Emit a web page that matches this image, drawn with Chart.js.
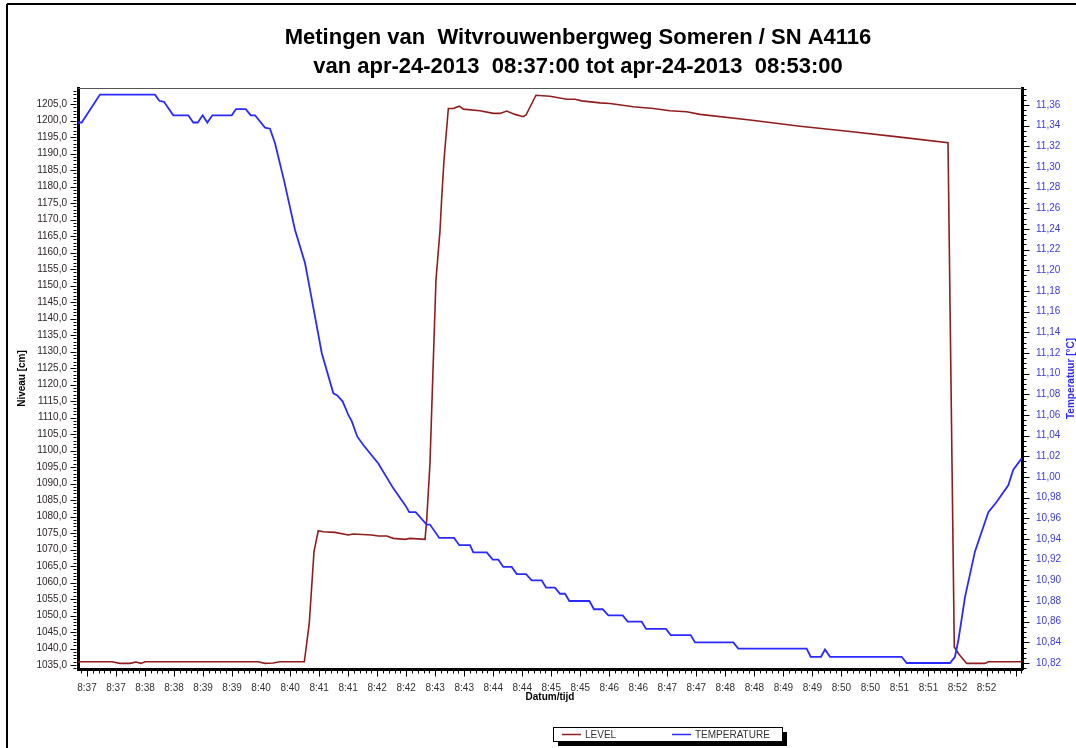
<!DOCTYPE html>
<html>
<head>
<meta charset="utf-8">
<script src="https://cdn.jsdelivr.net/npm/chart.js@4.4.0/dist/chart.umd.min.js"></script>
<style>
  html, body { margin: 0; padding: 0; background: #fff; }
</style>
</head>
<body>
<canvas id="meting-chart" width="1076" height="748"></canvas>
<script>
// tijd in seconden na 08:37:00
const levelTimes = [0, 35.2, 43.4, 53.8, 60.0, 65.1, 69.3, 186.1, 193.3, 201.6, 208.8, 234.0, 239.1, 244.0, 248.4,
  253.6, 265.7, 279.5, 284.6, 303.7, 310.5, 319.1, 326.0, 338.1, 343.3, 358.8, 360.5, 363.9, 366.7, 370.1, 374.3,
  376.0, 378.4, 382.9, 388.0, 394.2, 398.4, 415.6, 429.4, 436.3, 443.2, 451.8, 460.4, 463.2, 473.5, 488.0, 505.3,
  513.9, 520.8, 539.7, 550.0, 574.1, 594.8, 612.1, 629.3, 643.1, 694.8, 746.5, 798.2, 849.9, 899.5, 906.0, 910.2,
  918.8, 937.7, 941.2, 975.7];
const levelValues = [1036.0, 1036.0, 1035.5, 1035.5, 1035.9, 1035.5, 1036.0, 1036.0, 1035.5, 1035.6, 1036.0, 1036.0,
  1047.6, 1069.4, 1075.7, 1075.4, 1075.2, 1074.4, 1074.7, 1074.4, 1074.1, 1074.1, 1073.4, 1073.1, 1073.4, 1073.1,
  1078.9, 1096.1, 1121.4, 1151.7, 1166.8, 1176.4, 1188.0, 1203.7, 1203.7, 1204.4, 1203.5, 1203.0, 1202.2, 1202.2,
  1202.9, 1201.9, 1201.2, 1201.7, 1207.7, 1207.4, 1206.5, 1206.5, 1206.0, 1205.4, 1205.2, 1204.2, 1203.7, 1203.0,
  1202.7, 1201.9, 1200.2, 1198.3, 1196.7, 1195.0, 1193.3, 1040.5, 1038.5, 1035.5, 1035.5, 1036.0, 1036.0];

const tempTimes = [0, 3.8, 22.7, 79.6, 84.1, 88.9, 98.5, 114.0, 119.2, 123.8, 128.9, 133.7, 138.9, 158.9, 163.4,
  173.4, 178.6, 183.0, 193.3, 198.5, 203.7, 213.0, 224.4, 234.7, 239.9, 252.0, 264.0, 268.1, 273.7, 279.5, 283.0,
  288.8, 295.0, 310.5, 326.0, 338.1, 342.5, 349.1, 360.5, 363.9, 373.5, 388.8, 394.2, 405.3, 408.7, 422.6, 428.8,
  434.6, 439.7, 448.4, 453.6, 463.2, 469.1, 479.4, 483.9, 493.2, 498.3, 503.5, 508.0, 528.7, 533.5, 542.5, 548.3,
  563.2, 568.3, 582.8, 587.3, 607.9, 612.8, 633.5, 637.9, 677.5, 682.7, 753.4, 757.5, 768.2, 772.3, 777.5, 851.6,
  856.8, 901.6, 906.7, 910.2, 917.1, 927.4, 941.2, 949.9, 961.8, 967.0, 975.7];
const tempValues = [11.343, 11.343, 11.370, 11.370, 11.364, 11.363, 11.350, 11.350, 11.343, 11.343, 11.350, 11.343,
  11.350, 11.350, 11.356, 11.356, 11.350, 11.350, 11.338, 11.337, 11.323, 11.287, 11.239, 11.207, 11.181, 11.120,
  11.081, 11.079, 11.073, 11.060, 11.054, 11.039, 11.031, 11.013, 10.989, 10.973, 10.966, 10.966, 10.954, 10.954,
  10.941, 10.941, 10.934, 10.934, 10.927, 10.927, 10.920, 10.920, 10.913, 10.913, 10.906, 10.906, 10.900, 10.900,
  10.893, 10.893, 10.887, 10.887, 10.880, 10.880, 10.872, 10.872, 10.866, 10.866, 10.860, 10.860, 10.853, 10.853,
  10.847, 10.847, 10.840, 10.840, 10.834, 10.834, 10.826, 10.826, 10.833, 10.826, 10.826, 10.820, 10.820, 10.826,
  10.842, 10.884, 10.928, 10.966, 10.976, 10.992, 11.007, 11.018];

// as-labels
const timeTickLabels = ['8:37', '8:37', '8:38', '8:38', '8:39', '8:39', '8:40', '8:40', '8:41', '8:41', '8:42',
  '8:42', '8:43', '8:43', '8:44', '8:44', '8:45', '8:45', '8:46', '8:46', '8:47', '8:47', '8:48', '8:48', '8:49',
  '8:49', '8:50', '8:50', '8:51', '8:51', '8:52', '8:52'];
const firstTickSec = 9.3;
const tickStepSec = 30;
const levelTicks = [1035, 1040, 1045, 1050, 1055, 1060, 1065, 1070, 1075, 1080, 1085, 1090, 1095, 1100, 1105, 1110,
  1115, 1120, 1125, 1130, 1135, 1140, 1145, 1150, 1155, 1160, 1165, 1170, 1175, 1180, 1185, 1190, 1195, 1200, 1205];
const tempTicks = [10.82, 10.84, 10.86, 10.88, 10.90, 10.92, 10.94, 10.96, 10.98, 11.00, 11.02, 11.04, 11.06, 11.08,
  11.10, 11.12, 11.14, 11.16, 11.18, 11.20, 11.22, 11.24, 11.26, 11.28, 11.30, 11.32, 11.34, 11.36];

const titleLines = ['Metingen van  Witvrouwenbergweg Someren / SN A4116',
                    'van apr-24-2013  08:37:00 tot apr-24-2013  08:53:00'];

const levelColor = '#901d1d';
const tempColor = '#2a2aff';
const fontFam = '"Liberation Sans", Arial, sans-serif';

function line(ctx, x1, y1, x2, y2) {
  ctx.beginPath();
  ctx.moveTo(x1, y1);
  ctx.lineTo(x2, y2);
  ctx.stroke();
}

// titel, kleine streepjes, rechter astitel, legenda en kader
const decor = {
  id: 'decor',
  afterDraw(chart) {
    const { ctx, chartArea: a, scales } = chart;
    const xs = scales.x, yl = scales.yLevel, yt = scales.yTemp;
    ctx.save();

    ctx.strokeStyle = '#000';
    ctx.lineWidth = 2;
    line(ctx, 7, 4, 1076, 4);
    line(ctx, 7, 4, 7, 748);

    ctx.fillStyle = '#000';
    ctx.font = 'bold 22px ' + fontFam;
    ctx.textAlign = 'center';
    ctx.textBaseline = 'middle';
    ctx.fillText(titleLines[0], 578, 38);
    ctx.fillText(titleLines[1], 578, 67);

    ctx.strokeStyle = '#555';
    ctx.lineWidth = 1;
    line(ctx, a.left, a.top + 0.5, a.right, a.top + 0.5);

    ctx.strokeStyle = '#000';
    for (let v = Math.ceil(yl.min); v <= yl.max; v++) {
      const py = Math.round(yl.getPixelForValue(v)) + 0.5;
      const len = v % 5 === 0 ? 6 : 3;
      line(ctx, a.left - 1.5 - len, py, a.left - 1.5, py);
    }
    for (let k = Math.ceil(yt.min / 0.005); k * 0.005 <= yt.max; k++) {
      const py = Math.round(yt.getPixelForValue(k * 0.005)) + 0.5;
      const len = k % 4 === 0 ? 6 : 3;
      line(ctx, a.right + 1.5, py, a.right + 1.5 + len, py);
    }
    for (let k = -1; firstTickSec + k * 6 <= xs.max; k++) {
      const t = firstTickSec + k * 6;
      if (t < xs.min) continue;
      const px = Math.round(xs.getPixelForValue(t)) + 0.5;
      const len = k % 5 === 0 ? 6 : 3;
      line(ctx, px, a.bottom + 1.5, px, a.bottom + 1.5 + len);
    }

    ctx.save();
    ctx.translate(1071, (a.top + a.bottom) / 2);
    ctx.rotate(-Math.PI / 2);
    ctx.fillStyle = tempColor;
    ctx.font = 'bold 10px ' + fontFam;
    ctx.textAlign = 'center';
    ctx.textBaseline = 'middle';
    ctx.fillText('Temperatuur [°C]', 0, 0);
    ctx.restore();

    // legenda
    const lx = 553, ly = 727, lw = 229, lh = 14;
    ctx.fillStyle = '#000';
    ctx.fillRect(lx + 5, ly + 5, lw, lh);
    ctx.fillStyle = '#fff';
    ctx.fillRect(lx, ly, lw, lh);
    ctx.strokeStyle = '#000';
    ctx.lineWidth = 1;
    ctx.strokeRect(lx + 0.5, ly + 0.5, lw, lh);
    ctx.font = '10px ' + fontFam;
    ctx.textBaseline = 'middle';
    ctx.textAlign = 'left';
    const items = [[chart.data.datasets[0], 9], [chart.data.datasets[1], 119]];
    items.forEach(([ds, off]) => {
      ctx.strokeStyle = ds.borderColor;
      ctx.lineWidth = 1.5;
      line(ctx, lx + off, ly + 7.5, lx + off + 19, ly + 7.5);
      ctx.fillStyle = '#333';
      ctx.fillText(ds.label, lx + off + 23, ly + 8);
    });
    ctx.restore();
  }
};

const meting = document.getElementById('meting-chart');
new Chart(meting, {
  type: 'line',
  data: {
    datasets: [
      {
        label: 'LEVEL',
        data: levelTimes.map((t, i) => ({ x: t, y: levelValues[i] })),
        yAxisID: 'yLevel',
        borderColor: levelColor,
        borderWidth: 1.6,
        pointRadius: 0,
        tension: 0,
        order: 1
      },
      {
        label: 'TEMPERATURE',
        data: tempTimes.map((t, i) => ({ x: t, y: tempValues[i] })),
        yAxisID: 'yTemp',
        borderColor: tempColor,
        borderWidth: 1.8,
        pointRadius: 0,
        tension: 0,
        order: 0
      }
    ]
  },
  options: {
    responsive: false,
    animation: false,
    devicePixelRatio: 1,
    events: [],
    layout: { padding: { top: 88, left: 0, right: 0, bottom: 0 } },
    scales: {
      x: {
        type: 'linear',
        position: 'bottom',
        min: 0,
        max: 976,
        afterBuildTicks: s => { s.ticks = timeTickLabels.map((l, i) => ({ value: firstTickSec + i * tickStepSec })); },
        afterFit: s => { s.height = 79; },
        grid: { display: false, drawTicks: false },
        border: { display: true, color: '#000', width: 3 },
        ticks: {
          autoSkip: false,
          maxRotation: 0,
          padding: 13,
          color: '#333',
          font: { size: 10, family: fontFam },
          callback: (v, i) => timeTickLabels[i]
        },
        title: {
          display: true,
          text: 'Datum/tijd',
          color: '#000',
          font: { size: 10, weight: 'bold', family: fontFam },
          padding: { top: 0, bottom: 45 }
        }
      },
      yLevel: {
        type: 'linear',
        position: 'left',
        min: 1033.8,
        max: 1209.9,
        afterBuildTicks: s => { s.ticks = levelTicks.map(v => ({ value: v })); },
        afterFit: s => { s.width = 78; },
        grid: { display: false, drawTicks: false },
        border: { display: true, color: '#000', width: 3 },
        ticks: {
          padding: 11,
          color: '#2e2626',
          font: { size: 10, family: fontFam },
          callback: v => v.toFixed(1).replace('.', ',')
        },
        title: {
          display: true,
          text: 'Niveau [cm]',
          color: '#000',
          font: { size: 10, weight: 'bold', family: fontFam },
          padding: { top: 16, bottom: 0 }
        }
      },
      yTemp: {
        type: 'linear',
        position: 'right',
        min: 10.8142,
        max: 11.3764,
        afterBuildTicks: s => { s.ticks = tempTicks.map(v => ({ value: v })); },
        afterFit: s => { s.width = 54; },
        grid: { display: false, drawTicks: false },
        border: { display: true, color: '#000', width: 3 },
        ticks: {
          padding: 14,
          color: '#3b3bdc',
          font: { size: 10, family: fontFam },
          callback: v => v.toFixed(2).replace('.', ',')
        }
      }
    },
    plugins: {
      legend: { display: false },
      tooltip: { enabled: false },
      title: { display: false }
    }
  },
  plugins: [decor]
});
</script>
</body>
</html>
